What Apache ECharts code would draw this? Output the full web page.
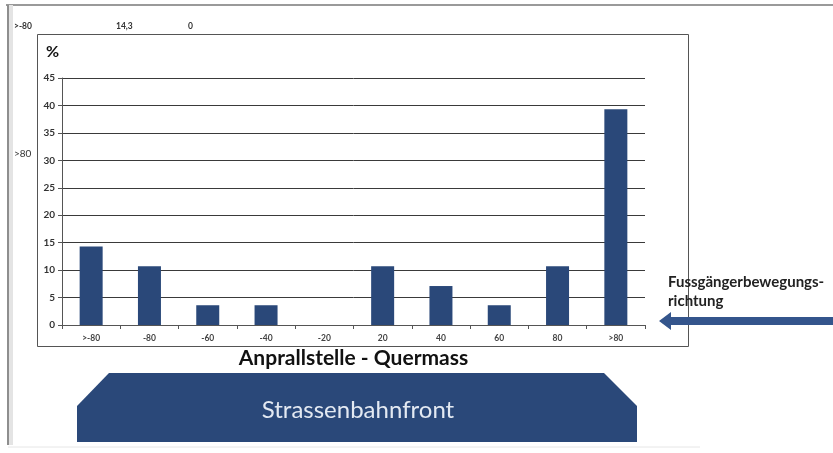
<!DOCTYPE html>
<html>
<head>
<meta charset="utf-8">
<script src="https://cdn.jsdelivr.net/npm/echarts@6/dist/echarts.min.js"></script>
<style>
html,body{margin:0;padding:0;background:#fff;}
#chart{width:833px;height:453px;}
</style>
</head>
<body>
<div id="chart"></div>
<script>
// Impact position across the tram front (cross dimension), share of cases in %
const categories = ['>-80', '-80', '-60', '-40', '-20', '20', '40', '60', '80', '>80'];
const shares = [14.3, 10.7, 3.6, 3.6, 0, 10.7, 7.1, 3.6, 10.7, 39.3];
const yTicks = { min: 0, max: 45, interval: 5 };

const NAVY = '#2a4879';
const FONT = 'Lato, "Open Sans", sans-serif';

const chart = echarts.init(document.getElementById('chart'), null, { renderer: 'canvas' });

chart.setOption({
  backgroundColor: '#ffffff',
  animation: false,
  grid: { left: 62, right: 188, top: 78, bottom: 128, containLabel: false },
  xAxis: {
    type: 'category',
    data: categories,
    boundaryGap: true,
    name: 'Anprallstelle - Quermass',
    nameLocation: 'middle',
    nameGap: 22,
    nameTextStyle: { fontFamily: FONT, fontWeight: 'bold', fontSize: 21, color: '#111' },
    axisLine: { show: true, lineStyle: { color: '#555', width: 1 } },
    axisTick: { show: true, alignWithLabel: false, length: 4, lineStyle: { color: '#555' } },
    axisLabel: { fontFamily: FONT, fontSize: 8.5, fontWeight: 'bold', color: '#444', margin: 9 }
  },
  yAxis: {
    type: 'value',
    min: yTicks.min,
    max: yTicks.max,
    interval: yTicks.interval,
    axisLine: { show: true, lineStyle: { color: '#555', width: 1 } },
    axisTick: { show: true, length: 4, lineStyle: { color: '#555' } },
    axisLabel: { fontFamily: FONT, fontSize: 10, fontWeight: 'bold', color: '#333', margin: 7 },
    splitLine: { show: true, lineStyle: { color: '#3a3a3a', width: 1 } }
  },
  series: [{
    type: 'bar',
    data: shares,
    barWidth: 23,
    itemStyle: { color: NAVY },
    silent: true
  }],
  graphic: [
    // outer page frame
    { type: 'line', shape: { x1: 6, y1: 5, x2: 833, y2: 5 }, style: { stroke: '#9a9a9a', lineWidth: 2 } },
    { type: 'rect', shape: { x: 9, y: 5, width: 4, height: 440 }, style: { fill: '#e4e4e4' } },
    { type: 'line', shape: { x1: 8, y1: 5, x2: 8, y2: 445 }, style: { stroke: '#8e8e8e', lineWidth: 2 } },
    { type: 'line', shape: { x1: 8, y1: 447, x2: 700, y2: 447 }, style: { stroke: '#e6e6e6', lineWidth: 1 } },
    // chart box
    { type: 'rect', shape: { x: 37.5, y: 34.5, width: 651, height: 312 }, style: { fill: 'none', stroke: '#555', lineWidth: 1 }, z: 0 },
    // header row
    { type: 'text', left: 14, top: 22, style: { text: '>-80', fontFamily: FONT, fontSize: 8.5, fontWeight: 'bold', fill: '#333' } },
    { type: 'text', left: 116, top: 22, style: { text: '14,3', fontFamily: FONT, fontSize: 8.5, fontWeight: 'bold', fill: '#333' } },
    { type: 'text', left: 188, top: 22, style: { text: '0', fontFamily: FONT, fontSize: 8.5, fontWeight: 'bold', fill: '#333' } },
    { type: 'text', left: 14, top: 149, style: { text: '>80', fontFamily: FONT, fontSize: 10, fill: '#333' } },
    // unit
    { type: 'text', left: 46, top: 44, style: { text: '%', fontFamily: FONT, fontSize: 16, fontWeight: 'bold', fill: '#111' } },
    // tram front
    { type: 'polygon', shape: { points: [[109, 373], [604, 373], [637, 406], [637, 442], [77, 442], [77, 406]] }, style: { fill: NAVY } },
    { type: 'text', x: 358, y: 410, style: { text: 'Strassenbahnfront', fontFamily: FONT, fontSize: 24, fill: '#e3e9f2', align: 'center', verticalAlign: 'middle' } },
    // walking direction
    { type: 'polygon', shape: { points: [[659, 321], [671, 312], [671, 317], [833, 317], [833, 325], [671, 325], [671, 330]] }, style: { fill: '#34558c' } },
    { type: 'text', left: 668, top: 273, style: { text: 'Fussgängerbewegungs-\nrichtung', fontFamily: FONT, fontSize: 15, fontWeight: 'bold', fill: '#222', lineHeight: 19 } }
  ]
});
</script>
</body>
</html>
